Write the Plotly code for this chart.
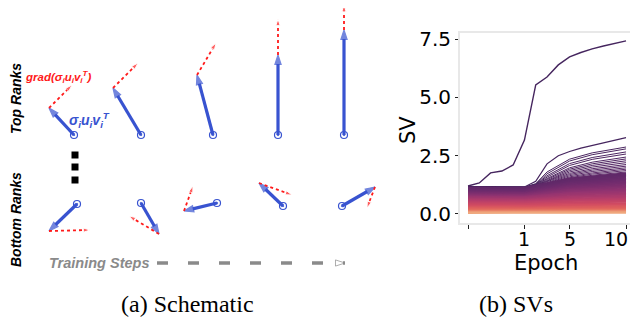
import plotly.graph_objects as go
from plotly.colors import sample_colorscale

# ---------------- (a) schematic : vectors (pixel-like units, y up) ----------------
top_x = [74, 141, 213, 278, 344]
top_y = [185, 185, 185, 185, 185]
top_vec_dx = [-25, -28, -16, 0, 0]
top_vec_dy = [27, 47, 60, 80, 105]
top_grad_dx = [23, 25, 19, 0, 0]
top_grad_dy = [23, 25, 32, 36, 25]

bottom_x = [77, 141, 217, 283, 342]
bottom_y = [116, 117, 117, 114, 114]
bottom_vec_dx = [-28, 18, -33, -24, 33]
bottom_vec_dy = [-27, -31, -8, 23, 19]
bottom_grad_dx = [41, -30, 9, 33, -8]
bottom_grad_dy = [1, 18, 25, -12, -21]

dots_x = [75, 75, 75]
dots_y = [165, 153, 140]
steps_x = [157, 345]
steps_y = [57, 57]

# ---------------- (b) singular values over training ----------------
epoch_idx = list(range(15))
epoch_ticks = [0, 5, 9, 14]
epoch_labels = ["", "1", "5", "10"]

sv_top = [1.20, 1.33, 1.76, 1.84, 2.10, 3.17, 5.53, 5.87, 6.39, 6.73, 6.92, 7.08, 7.20, 7.32, 7.42]
sv_second = [1.17, 1.17, 1.16, 1.16, 1.16, 1.16, 1.40, 2.15, 2.50, 2.68, 2.82, 2.94, 3.05, 3.16, 3.27]

fan_idx = [0, 5, 6, 7, 9, 11, 14]
fan_svs = [
    [1.16, 1.15, 1.30, 1.80, 2.35, 2.62, 2.87],
    [1.16, 1.15, 1.28, 1.72, 2.27, 2.54, 2.79],
    [1.15, 1.14, 1.26, 1.64, 2.16, 2.42, 2.66],
    [1.15, 1.14, 1.25, 1.58, 2.08, 2.34, 2.57],
    [1.15, 1.14, 1.24, 1.52, 1.98, 2.22, 2.44],
    [1.15, 1.14, 1.23, 1.48, 1.92, 2.15, 2.36],
    [1.14, 1.13, 1.22, 1.44, 1.86, 2.08, 2.28],
    [1.14, 1.13, 1.21, 1.40, 1.80, 2.01, 2.20],
    [1.14, 1.13, 1.20, 1.37, 1.74, 1.94, 2.12],
    [1.14, 1.13, 1.19, 1.34, 1.69, 1.88, 2.05],
    [1.13, 1.12, 1.18, 1.31, 1.64, 1.82, 1.98],
    [1.13, 1.12, 1.17, 1.28, 1.59, 1.76, 1.92],
    [1.13, 1.12, 1.16, 1.26, 1.55, 1.71, 1.86],
    [1.13, 1.12, 1.15, 1.24, 1.51, 1.66, 1.80],
]

band_idx = [0, 5, 9, 14]
band_svs = [
    [1.12, 1.11, 1.52, 1.74], [1.09, 1.08, 1.47, 1.68], [1.06, 1.05, 1.42, 1.62],
    [1.03, 1.02, 1.37, 1.56], [1.00, 0.99, 1.32, 1.50], [0.97, 0.96, 1.27, 1.44],
    [0.94, 0.93, 1.22, 1.38], [0.91, 0.90, 1.17, 1.32], [0.88, 0.87, 1.12, 1.26],
    [0.85, 0.84, 1.07, 1.20], [0.82, 0.81, 1.02, 1.14], [0.79, 0.78, 0.97, 1.08],
    [0.76, 0.75, 0.92, 1.02], [0.73, 0.72, 0.88, 0.96], [0.70, 0.69, 0.83, 0.90],
    [0.66, 0.65, 0.77, 0.84], [0.62, 0.61, 0.72, 0.78], [0.58, 0.57, 0.66, 0.71],
    [0.54, 0.53, 0.61, 0.65], [0.50, 0.49, 0.56, 0.59], [0.45, 0.44, 0.50, 0.53],
    [0.40, 0.39, 0.44, 0.46], [0.35, 0.34, 0.38, 0.40], [0.30, 0.29, 0.32, 0.34],
    [0.25, 0.24, 0.27, 0.28], [0.20, 0.19, 0.21, 0.22], [0.15, 0.15, 0.16, 0.17],
    [0.11, 0.11, 0.12, 0.12], [0.08, 0.08, 0.08, 0.09], [0.05, 0.05, 0.05, 0.06],
]

BLUE = "#3853d0"
RED = "#ff1a1a"
flare = [[0.0, "#45255e"], [0.17, "#6c2b6d"], [0.33, "#8f3371"], [0.5, "#b13c6c"],
         [0.67, "#d14a61"], [0.83, "#e3685c"], [1.0, "#efa77c"]]

# page body adds an 8px offset; shift the figure so it lines up with the window
OFF = 8
W, H = 638, 320

fig = go.Figure()


def add_arrow(x0, y0, dx, dy):
    fig.add_trace(go.Scatter(
        x=[x0, x0 + dx], y=[y0, y0 + dy], mode="lines+markers",
        line=dict(color=BLUE, width=3.2),
        marker=dict(symbol=["circle", "arrow"], size=[0, 10], color=BLUE,
                    angleref="previous", line=dict(width=1.2, color=BLUE)),
        xaxis="x", yaxis="y", hoverinfo="skip", showlegend=False))
    fig.add_trace(go.Scatter(
        x=[x0], y=[y0], mode="markers",
        marker=dict(symbol="circle-open-dot", size=7, color=BLUE, line=dict(width=1.2)),
        xaxis="x", yaxis="y", hoverinfo="skip", showlegend=False))


def add_grad(x0, y0, dx, dy):
    fig.add_trace(go.Scatter(
        x=[x0, x0 + dx], y=[y0, y0 + dy], mode="lines+markers",
        line=dict(color=RED, width=1.8, dash="dot"),
        marker=dict(symbol=["circle", "arrow"], size=[0, 7], color=RED,
                    angleref="previous"),
        xaxis="x", yaxis="y", hoverinfo="skip", showlegend=False))


for i in range(5):
    add_arrow(top_x[i], top_y[i], top_vec_dx[i], top_vec_dy[i])
    add_grad(top_x[i] + top_vec_dx[i], top_y[i] + top_vec_dy[i], top_grad_dx[i], top_grad_dy[i])
    add_arrow(bottom_x[i], bottom_y[i], bottom_vec_dx[i], bottom_vec_dy[i])
    add_grad(bottom_x[i] + bottom_vec_dx[i], bottom_y[i] + bottom_vec_dy[i],
             bottom_grad_dx[i], bottom_grad_dy[i])

fig.add_trace(go.Scatter(x=dots_x, y=dots_y, mode="markers",
                         marker=dict(symbol="square", size=7, color="black"),
                         xaxis="x", yaxis="y", hoverinfo="skip", showlegend=False))
fig.add_trace(go.Scatter(x=steps_x, y=steps_y, mode="lines+markers",
                         line=dict(color="#8a8a8a", width=3.5, dash="11px,20px"),
                         marker=dict(symbol=["circle", "arrow-open"], size=[0, 10], color="#8a8a8a",
                                     angleref="previous", line=dict(width=1, color="#8a8a8a")),
                         xaxis="x", yaxis="y", hoverinfo="skip", showlegend=False))

# ---- SV lines ----
n_band = len(band_svs)
band_cols = sample_colorscale(flare, [0.12 + 0.88 * (k / (n_band - 1)) ** 1.6 for k in range(n_band)])
fan_cols = sample_colorscale(flare, [0.02 + 0.006 * k for k in range(len(fan_svs))])

fig.add_trace(go.Scatter(x=epoch_idx, y=sv_top, mode="lines", line=dict(color=flare[0][1], width=1.4),
                         xaxis="x2", yaxis="y2", showlegend=False))
fig.add_trace(go.Scatter(x=epoch_idx, y=sv_second, mode="lines", line=dict(color=flare[0][1], width=1.2),
                         xaxis="x2", yaxis="y2", showlegend=False))
for row, c in zip(fan_svs, fan_cols):
    fig.add_trace(go.Scatter(x=fan_idx, y=row, mode="lines", line=dict(color=c, width=1.0),
                             xaxis="x2", yaxis="y2", showlegend=False))
for row, c in zip(band_svs, band_cols):
    fig.add_trace(go.Scatter(x=band_idx, y=row, mode="lines", line=dict(color=c, width=2.2),
                             xaxis="x2", yaxis="y2", showlegend=False))

ann = []
sch_font = "Liberation Sans, Arial, sans-serif"
ann.append(dict(x=16, y=221, text="<b><i>Top Ranks</i></b>", textangle=-90,
                font=dict(family=sch_font, size=14, color="black")))
ann.append(dict(x=16, y=100, text="<b><i>Bottom Ranks</i></b>", textangle=-90,
                font=dict(family=sch_font, size=14, color="black")))
ann.append(dict(x=99, y=57, text="<b><i>Training Steps</i></b>",
                font=dict(family=sch_font, size=14.5, color="#8a8a8a")))
ann.append(dict(x=58, y=243, text="<b><i>grad(σ<sub>i</sub>u<sub>i</sub>v<sub>i</sub><sup>T</sup>)</i></b>",
                font=dict(family=sch_font, size=11.5, color=RED)))
ann.append(dict(x=89, y=200, text="<b><i>σ<sub>i</sub>u<sub>i</sub>v<sub>i</sub><sup>T</sup></i></b>",
                font=dict(family=sch_font, size=14, color=BLUE)))
ann.append(dict(x=187, y=16, text="(a) Schematic",
                font=dict(family="Liberation Serif, Times New Roman, serif", size=24, color="black")))
ann.append(dict(x=516, y=16, text="(b) SVs",
                font=dict(family="Liberation Serif, Times New Roman, serif", size=24, color="black")))
ann.append(dict(x=546, y=57, text="Epoch",
                font=dict(family="DejaVu Sans", size=21, color="black")))
ann.append(dict(x=408, y=190, text="SV", textangle=-90,
                font=dict(family="DejaVu Sans", size=21, color="black")))
for a in ann:
    a.update(xref="x", yref="y", showarrow=False, xanchor="center", yanchor="middle")
# x tick labels placed through the epoch axis (last one kept inside the window)
for t, lab in zip(epoch_ticks, epoch_labels):
    if not lab:
        continue
    last = t == epoch_ticks[-1]
    ann.append(dict(x=t + (0.38 if last else 0), y=81, xref="x2", yref="y", text=lab,
                    showarrow=False, xanchor="right" if last else "center", yanchor="middle",
                    font=dict(family="DejaVu Sans", size=19, color="black")))

fig.update_layout(
    width=W, height=H, margin=dict(l=0, r=0, t=0, b=0, autoexpand=False),
    paper_bgcolor="white", plot_bgcolor="rgba(0,0,0,0)",
    annotations=ann,
    xaxis=dict(domain=[0, 1], range=[OFF, W + OFF], visible=False, fixedrange=True, automargin=False),
    yaxis=dict(domain=[0, 1], range=[-OFF, H - OFF], visible=False, fixedrange=True, automargin=False),
    xaxis2=dict(domain=[(460 - OFF) / W, (632 - OFF) / W], anchor="y2", range=[-0.71, 14.53],
                automargin=False, tickvals=epoch_ticks, showticklabels=False,
                ticks="outside", ticklen=4,
                tickcolor="#222", showgrid=False, zeroline=False, showline=True, mirror=True,
                linecolor="#e8e8e8", linewidth=2),
    yaxis2=dict(domain=[(H - 223 + OFF) / H, (H - 33 + OFF) / H], anchor="x2", range=[-0.386, 7.757],
                automargin=False,
                tickvals=[0, 2.5, 5, 7.5], ticktext=["0.0", "2.5", "5.0", "7.5"],
                ticks="outside", ticklen=3, tickcolor="#222", showgrid=False, zeroline=False,
                showline=True, mirror=True, linecolor="#e8e8e8", linewidth=2,
                tickfont=dict(family="DejaVu Sans", size=20, color="black")),
)

fig.write_html("out.html")
